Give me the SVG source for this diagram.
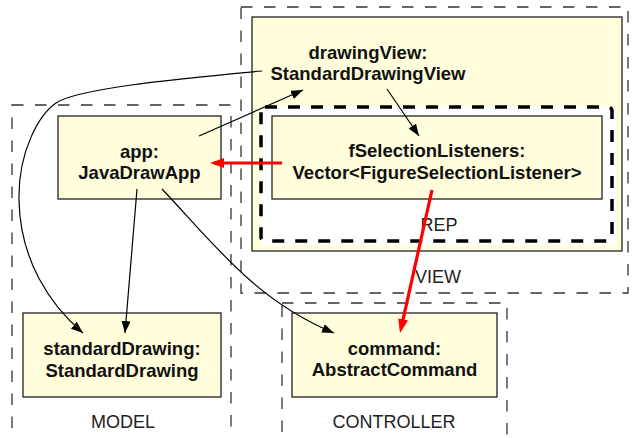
<svg xmlns="http://www.w3.org/2000/svg" width="632" height="438" viewBox="0 0 632 438">
  <style>
    .pkg { fill: none; stroke: #333; stroke-width: 1.3; stroke-dasharray: 11.5 11.5; }
    .node { fill: #FFFDDC; stroke: #222; stroke-width: 1.3; }
    .name { font-family: "Liberation Sans", Arial, sans-serif; font-size: 18.5px; font-weight: bold; fill: #111; text-anchor: middle; }
    .pkglabel { font-family: "Liberation Sans", Arial, sans-serif; font-size: 18px; fill: #222; text-anchor: middle; }
    .link { fill: none; stroke: #000; stroke-width: 1.2; }
    .hot { fill: none; stroke: #FF0000; stroke-width: 3.2; }
  </style>
  <defs>
    <marker id="arrow" markerUnits="userSpaceOnUse" markerWidth="13" markerHeight="10" refX="12" refY="4.5" orient="auto">
      <path d="M0,0 L12,4.5 L0,9 z" fill="#000"/>
    </marker>
    <marker id="arrow-red" markerUnits="userSpaceOnUse" markerWidth="15" markerHeight="11" refX="10" refY="5" orient="auto">
      <path d="M0,0 L14,5 L0,10 z" fill="#FF0000"/>
    </marker>
  </defs>

  <rect width="632" height="438" fill="#FFFFFF"/>

  <!-- packages -->
  <g id="pkg-model">
    <rect class="pkg" x="12" y="105" width="219" height="345"/>
    <text class="pkglabel" x="123" y="428">MODEL</text>
  </g>
  <g id="pkg-view">
    <rect class="pkg" x="241" y="7" width="387" height="286"/>
    <text class="pkglabel" x="438" y="283">VIEW</text>
  </g>
  <g id="pkg-controller">
    <rect class="pkg" x="282" y="303" width="225" height="150"/>
    <text class="pkglabel" x="394" y="428">CONTROLLER</text>
  </g>

  <!-- objects -->
  <g id="drawingView">
    <rect class="node" x="252" y="17" width="370" height="234"/>
    <text class="name" x="368" y="59">drawingView:</text>
    <text class="name" x="368" y="80">StandardDrawingView</text>
  </g>

  <g id="rep">
    <rect x="262" y="108" width="353" height="136" rx="4" fill="#FFFFFF" stroke="#FFFFFF" stroke-width="3"/>
    <rect x="261" y="107" width="351" height="134" rx="4" fill="none" stroke="#000" stroke-width="3.5" stroke-dasharray="12 11"/>
    <text class="pkglabel" x="439" y="231">REP</text>
  </g>

  <g id="fSelectionListeners">
    <rect class="node" x="272" y="116" width="330" height="83"/>
    <text class="name" x="437" y="157">fSelectionListeners:</text>
    <text class="name" x="437" y="179">Vector&lt;FigureSelectionListener&gt;</text>
  </g>

  <g id="app">
    <rect class="node" x="58" y="116" width="163" height="83"/>
    <text class="name" x="139.5" y="158">app:</text>
    <text class="name" x="139.5" y="179">JavaDrawApp</text>
  </g>

  <g id="standardDrawing">
    <rect class="node" x="23" y="313" width="198" height="84"/>
    <text class="name" x="122" y="355">standardDrawing:</text>
    <text class="name" x="122" y="377">StandardDrawing</text>
  </g>

  <g id="command">
    <rect class="node" x="292" y="313" width="205" height="84"/>
    <text class="name" x="394.5" y="355">command:</text>
    <text class="name" x="394.5" y="376">AbstractCommand</text>
  </g>

  <!-- connectors -->
  <g id="connectors">
    <line class="link" x1="199" y1="136" x2="303" y2="90" marker-end="url(#arrow)"/>
    <line class="link" x1="387" y1="89" x2="419" y2="136" marker-end="url(#arrow)"/>
    <line class="link" x1="137" y1="189" x2="125" y2="333" marker-end="url(#arrow)"/>
    <path class="link" d="M262,71 C160,80 75,90 56,103 C40,114 18,150 19,200 C20,260 50,305 83,333" marker-end="url(#arrow)"/>
    <path class="link" d="M162,189 C215,245 255,300 334,333" marker-end="url(#arrow)"/>
    <line class="hot" x1="282" y1="163" x2="214" y2="163" marker-end="url(#arrow-red)"/>
    <line class="hot" x1="432" y1="190" x2="400.9" y2="329.1" marker-end="url(#arrow-red)"/>
  </g>
</svg>
